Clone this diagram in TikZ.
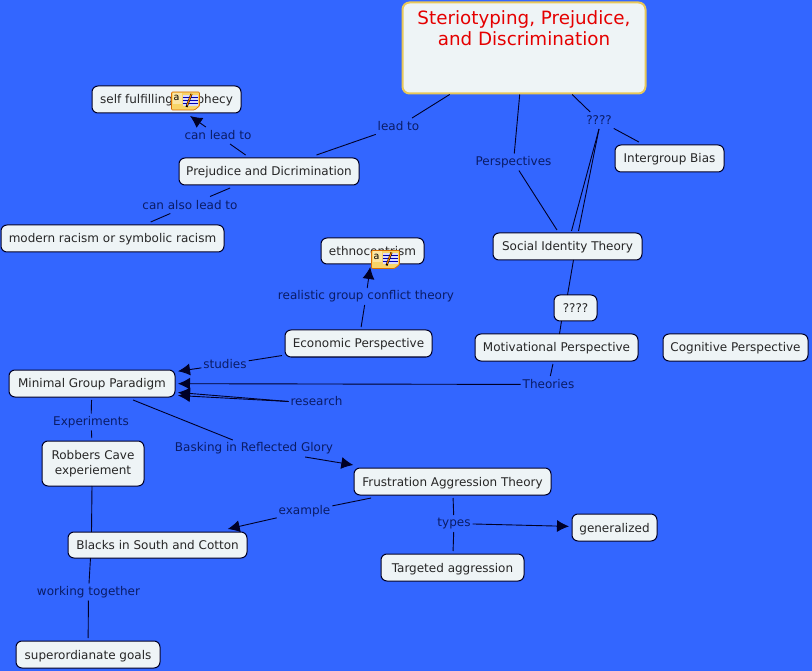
\documentclass[tikz,border=0pt]{standalone}
\usepackage{fontspec}
\setmainfont{DejaVu Sans}
\usetikzlibrary{arrows.meta}
\definecolor{bg}{HTML}{3366FF}
\definecolor{boxfill}{HTML}{EEF4F6}
\definecolor{lab}{HTML}{0A1C66}
\definecolor{gold}{HTML}{E8C85A}
\definecolor{notey}{HTML}{F8D468}
\tikzset{
 x=1pt,y=-1pt,
 concept/.style={draw=black!85!blue,fill=boxfill,rounded corners=6pt,line width=1pt,font=\fontsize{12pt}{15pt}\selectfont,text=black!85,align=center,outer sep=3pt,inner sep=0pt},
 titlebox/.style={draw=gold,fill=boxfill,rounded corners=7pt,line width=2pt,inner sep=0pt},
 linklab/.style={text=lab,font=\fontsize{12pt}{15pt}\selectfont,inner sep=1pt,outer sep=1pt,minimum height=15pt},
 conn/.style={draw=black!85!blue,line width=.9pt},
 arr/.style={conn,-{Latex[length=12pt,width=12pt]}},
 notepad/.pic={
  \fill[notey,draw=orange!85!black,line width=.7pt,rounded corners=1pt] (-14,-9)--(14,-9)--(14,5)--(9,9)--(-14,9)--cycle;
  \fill[notey!60!white] (-13,-8) rectangle (-4,3);
  \node[inner sep=0pt,font=\fontsize{9.5pt}{9.5pt}\selectfont] at (-9,-3) {a};
  \fill[blue!15] (-3,-6) rectangle (12,5);
  \foreach \yy in {-4,-1,2}{\draw[blue!70!black,line width=.5pt] (-3,\yy)--(12,\yy);}
  \draw[black,line width=2pt] (6,-7)--(1,6);
  \draw[orange,line width=1pt] (6,-7)--(1.5,4.5);
 }
}
\begin{document}
\begin{tikzpicture}
\path[use as bounding box,fill=bg] (0,0) rectangle (812,671);
% concepts
\newcommand{\cbox}[6]{\node[concept,minimum width=#4 pt,minimum height=#5 pt] (#1) at (#2,#3) {\raisebox{0pt}[11pt][2pt]{#6}};}
\node[titlebox,minimum width=243pt,minimum height=91pt,anchor=north west] (title) at (401.5,1.5) {};
\node[text=red!90!black,font=\fontsize{18.3pt}{21.5pt}\selectfont,align=center,inner sep=0pt,anchor=north] (titletext) at (524,9) {\strut Steriotyping, Prejudice,\\\strut and Discrimination};
\cbox{self}{166.5}{99.5}{149}{27}{self fulfilling prophecy}
\cbox{prej}{269}{171.5}{180}{27}{Prejudice and Dicrimination}
\cbox{modern}{112.5}{238.5}{223}{27}{modern racism or symbolic racism}
\cbox{ethno}{372.5}{251}{103}{26}{ethnocentrism}
\cbox{econ}{358.5}{343.5}{147}{27}{Economic Perspective}
\cbox{minimal}{92}{383.5}{166}{27}{Minimal Group Paradigm}
\node[concept,minimum width=102pt,minimum height=45pt] (robbers) at (93,463.5) {Robbers Cave\\experiement};
\cbox{blacks}{157.5}{545}{179}{26}{Blacks in South and Cotton}
\cbox{super}{88}{654.5}{144}{27}{superordianate goals}
\cbox{frust}{452.5}{481.5}{197}{27}{Frustration Aggression Theory}
\cbox{target}{452.5}{567.5}{143}{27}{Targeted aggression}
\cbox{general}{614.5}{527.5}{85}{27}{generalized}
\cbox{social}{567.5}{246.5}{149}{27}{Social Identity Theory}
\cbox{qbox}{575.5}{308}{43}{26}{????}
\cbox{motiv}{556.5}{347.5}{163}{27}{Motivational Perspective}
\cbox{cogn}{735.5}{347.5}{145}{27}{Cognitive Perspective}
\cbox{inter}{669.5}{158.5}{109}{27}{Intergroup Bias}
% linking phrases
\node[linklab] (leadto) at (398.5,126.5) {lead to};
\node[linklab] (persp) at (513.5,162) {Perspectives};
\node[linklab] (qtop) at (599,120.5) {????};
\node[linklab] (canlead) at (218,135.5) {can lead to};
\node[linklab] (canalso) at (190,205) {can also lead to};
\node[linklab] (realistic) at (366,296.5) {realistic group conflict theory};
\node[linklab] (studies) at (225,364.5) {studies};
\node[linklab] (theories) at (548.5,384.5) {Theories};
\node[linklab] (research) at (316.5,401.5) {research};
\node[linklab] (exper) at (91,422) {Experiments};
\node[linklab] (basking) at (254,448.5) {Basking in Reflected Glory};
\node[linklab] (example) at (304.5,511.5) {example};
\node[linklab] (types) at (454,523.5) {types};
\node[linklab] (working) at (88.5,592) {working together};
% connectors
\draw[conn] (title) -- (leadto);
\draw[conn] (leadto) -- (prej);
\draw[conn] (title) -- (persp);
\draw[conn] (persp) -- (social);
\draw[conn] (title) -- (qtop);
\draw[conn] (qtop) -- (inter);
\draw[conn] (qtop.south) -- ([xshift=4pt,yshift=-1pt]social.north);
\draw[conn] (qtop.south) -- ([xshift=11pt,yshift=-1pt]social.north);
\draw[conn] ([xshift=6pt,yshift=3pt]social.south) -- ([xshift=-8pt,yshift=-3pt]qbox.north);
\draw[conn] ([xshift=-14pt,yshift=3pt]qbox.south) -- ([xshift=3pt,yshift=-3pt]motiv.north);
\draw[conn] (prej) -- (canlead);
\draw[arr] (canlead) -- (self);
\draw[conn] (prej) -- (canalso);
\draw[conn] (canalso) -- (modern);
\draw[conn] (econ) -- (realistic);
\draw[arr] (realistic) -- (ethno);
\draw[conn] (econ) -- (studies);
\draw[arr] (studies) -- (minimal);
\draw[conn] (motiv) -- (theories);
\draw[arr] (theories) -- (minimal);
\draw[arr] (research.west) -- ([yshift=-9pt]minimal.east);
\draw[arr] (research.west) -- ([yshift=-12pt]minimal.east);
\draw[conn] (minimal) -- (exper);
\draw[conn] (exper) -- (robbers);
\draw[conn] (minimal) -- (basking);
\draw[arr] (basking) -- (frust);
\draw[conn] ([xshift=-1pt,yshift=3pt]robbers.south) -- ([xshift=-66pt,yshift=-3pt]blacks.north);
\draw[conn] (frust) -- (example);
\draw[arr] (example) -- (blacks);
\draw[conn] (frust) -- (types);
\draw[conn] (types) -- (target);
\draw[arr] (types) -- (general);
\draw[conn] ([xshift=-67pt,yshift=3pt]blacks.south) -- (working);
\draw[conn] (working) -- (super);
% note icons
\pic at (185.5,101) {notepad};
\pic at (385.5,259.5) {notepad};
\end{tikzpicture}
\end{document}
